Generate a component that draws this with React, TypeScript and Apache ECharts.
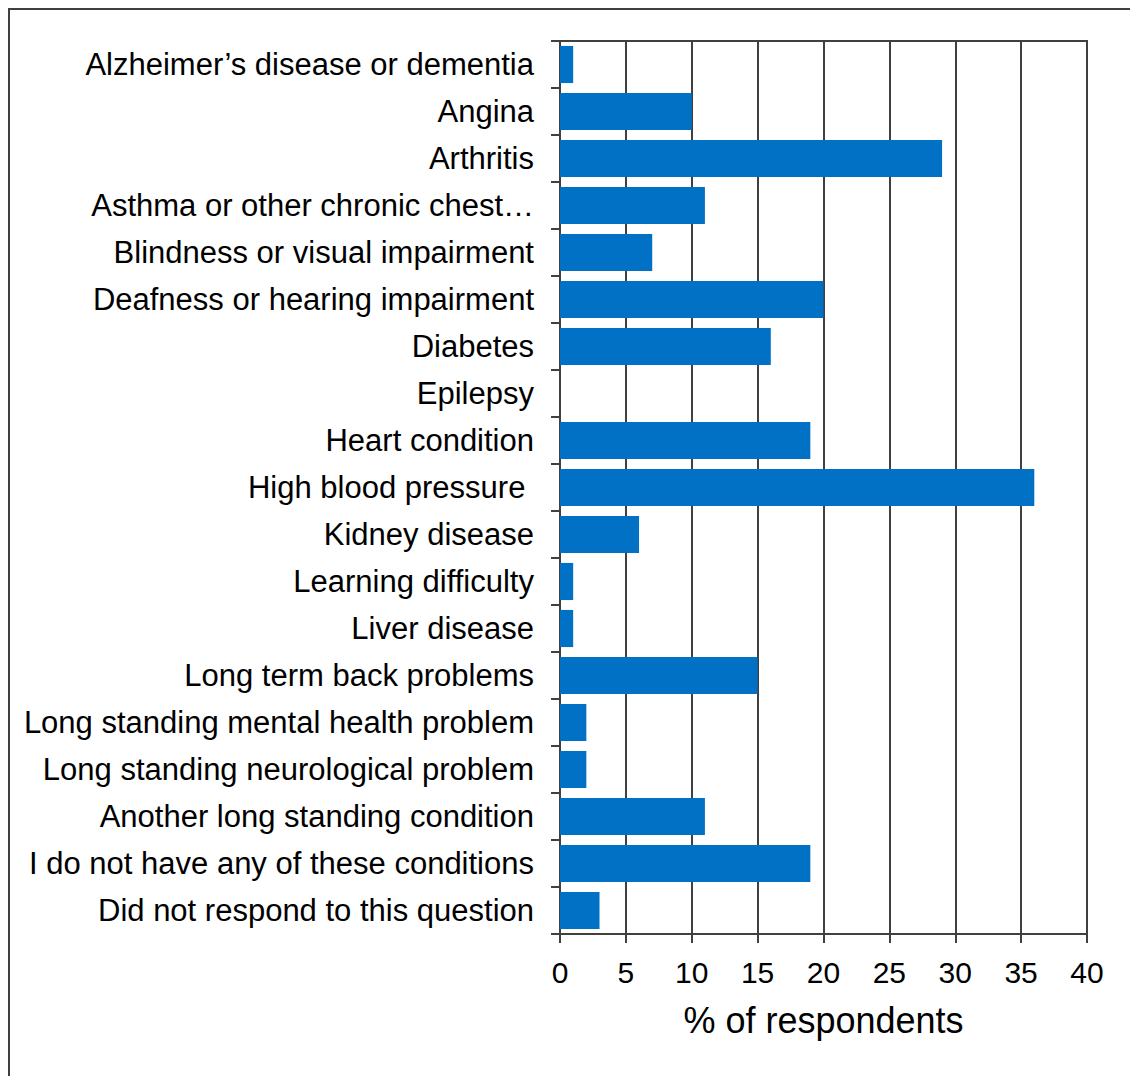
import React, { useEffect, useRef } from "react";
import * as echarts from "echarts";

// Conditions reported by respondents, top to bottom
const conditions: string[] = [
  "Alzheimer’s disease or dementia",
  "Angina",
  "Arthritis",
  "Asthma or other chronic chest…",
  "Blindness or visual impairment",
  "Deafness or hearing impairment",
  "Diabetes",
  "Epilepsy",
  "Heart condition",
  "High blood pressure\u00a0",
  "Kidney disease",
  "Learning difficulty",
  "Liver disease",
  "Long term back problems",
  "Long standing mental health problem",
  "Long standing neurological problem",
  "Another long standing condition",
  "I do not have any of these conditions",
  "Did not respond to this question",
];

// Share of respondents (%) for each condition
const respondentShare: number[] = [
  1, 10, 29, 11, 7, 20, 16, 0, 19, 36, 6, 1, 1, 15, 2, 2, 11, 19, 3,
];

const xTicks = { min: 0, max: 40, interval: 5 };
const xTitle = "% of respondents";

const FONT = "'Liberation Sans', Arial, sans-serif";
const LINE = "#404040";

export default function App() {
  const ref = useRef<HTMLDivElement>(null);

  useEffect(() => {
    document.body.style.margin = "0";
    const chart = echarts.init(ref.current!, null, { renderer: "svg" });
    chart.setOption({
      animation: false,
      backgroundColor: "#ffffff",
      graphic: [
        {
          type: "rect",
          shape: { x: 9, y: 9, width: 1300, height: 1300 },
          style: { fill: "none", stroke: LINE, lineWidth: 2 },
          silent: true,
        },
      ],
      grid: {
        left: 560,
        right: 43,
        top: 41,
        bottom: 142,
        show: true,
        borderColor: LINE,
        borderWidth: 2,
        backgroundColor: "transparent",
      },
      xAxis: {
        type: "value",
        min: xTicks.min,
        max: xTicks.max,
        interval: xTicks.interval,
        name: xTitle,
        nameLocation: "middle",
        nameGap: 68,
        nameTextStyle: { fontFamily: FONT, fontSize: 36, color: "#000" },
        axisLine: { show: true, lineStyle: { color: LINE, width: 2 } },
        axisTick: { show: true, length: 9, lineStyle: { color: LINE, width: 2 } },
        axisLabel: { fontFamily: FONT, fontSize: 30, color: "#000", margin: 23 },
        splitLine: { show: true, lineStyle: { color: LINE, width: 2 } },
      },
      yAxis: {
        type: "category",
        inverse: true,
        data: conditions,
        axisLine: { show: true, lineStyle: { color: LINE, width: 2 } },
        axisTick: { show: true, length: 9, lineStyle: { color: LINE, width: 2 } },
        axisLabel: { fontFamily: FONT, fontSize: 31, color: "#000", margin: 26 },
        splitLine: { show: false },
      },
      series: [
        {
          type: "bar",
          data: respondentShare,
          barCategoryGap: "21%",
          itemStyle: { color: "#0071C5" },
        },
      ],
    });
    return () => chart.dispose();
  }, []);

  return <div ref={ref} style={{ width: 1130, height: 1076 }} />;
}
